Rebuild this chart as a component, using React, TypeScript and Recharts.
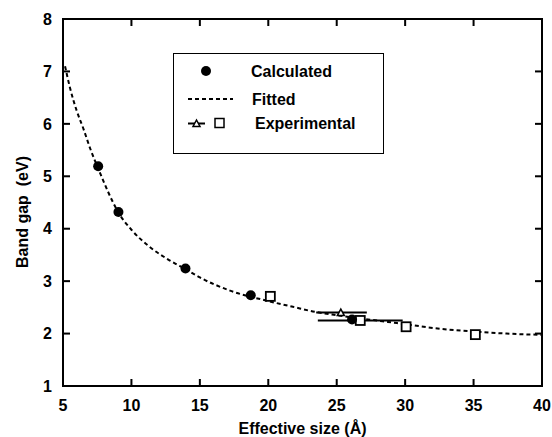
import { ComposedChart, Line, Scatter, XAxis, YAxis, ErrorBar, ReferenceArea, ReferenceLine } from 'recharts';

// values
const xTicks = [5, 10, 15, 20, 25, 30, 35, 40];
const yTicks = [1, 2, 3, 4, 5, 6, 7, 8];

const calculated = [
  { x: 7.57, y: 5.19 },
  { x: 9.05, y: 4.32 },
  { x: 13.95, y: 3.24 },
  { x: 18.72, y: 2.73 },
  { x: 26.12, y: 2.27 },
];

const expSquares = [
  { x: 20.15, y: 2.71, err: 0 },
  { x: 26.72, y: 2.25, err: 3.1 },
  { x: 30.07, y: 2.13, err: 0 },
  { x: 35.13, y: 1.98, err: 0 },
];

const expTriangles = [{ x: 25.3, y: 2.4, err: [1.8, 1.9] }];

const fitted = [
  { x: 5.15, y: 7.1 },
  { x: 5.5, y: 6.7 },
  { x: 6, y: 6.25 },
  { x: 6.5, y: 5.9 },
  { x: 7, y: 5.52 },
  { x: 7.6, y: 5.13 },
  { x: 8.3, y: 4.7 },
  { x: 9, y: 4.33 },
  { x: 10, y: 3.98 },
  { x: 11.3, y: 3.66 },
  { x: 12.7, y: 3.41 },
  { x: 14, y: 3.22 },
  { x: 15, y: 3.07 },
  { x: 17.2, y: 2.82 },
  { x: 20, y: 2.62 },
  { x: 21.8, y: 2.51 },
  { x: 23.5, y: 2.41 },
  { x: 25, y: 2.35 },
  { x: 27, y: 2.28 },
  { x: 29.4, y: 2.2 },
  { x: 32.6, y: 2.09 },
  { x: 35, y: 2.04 },
  { x: 37.4, y: 2.0 },
  { x: 40, y: 1.975 },
];

const FONT = '"Liberation Sans", Arial, sans-serif';
const TICK = 7;
const tickStyle = { fill: '#000', fontSize: 16, fontWeight: 'bold', fontFamily: FONT };

// inward tick stubs (filled rects) at both ends of an invisible reference line
const VStub = (p: any) => {
  const top = Math.min(p.y1, p.y2);
  const bot = Math.max(p.y1, p.y2);
  return (
    <g fill="#000" stroke="none">
      <rect x={p.x1 - 1} y={top} width={2} height={TICK} />
      <rect x={p.x1 - 1} y={bot - TICK} width={2} height={TICK} />
    </g>
  );
};
const HStub = (p: any) => {
  const l = Math.min(p.x1, p.x2);
  const r = Math.max(p.x1, p.x2);
  return (
    <g fill="#000" stroke="none">
      <rect x={l} y={p.y1 - 1} width={TICK} height={2} />
      <rect x={r - TICK} y={p.y1 - 1} width={TICK} height={2} />
    </g>
  );
};

const Dot = (p: any) => <circle cx={p.cx} cy={p.cy} r={5} fill="#000" />;
const Square = (p: any) => (
  <rect x={p.cx - 4.5} y={p.cy - 4.5} width={9} height={9} fill="#fff" stroke="#000" strokeWidth={1.8} />
);
const Tri = (p: any) => (
  <polygon
    points={`${p.cx - 3.5},${p.cy + 3} ${p.cx + 3.5},${p.cy + 3} ${p.cx},${p.cy - 3.5}`}
    fill="#fff"
    stroke="#000"
    strokeWidth={1.5}
  />
);

const LegendBox = () => (
  <div
    style={{
      position: 'absolute',
      left: 173,
      top: 53,
      width: 211,
      height: 101,
      border: '1.5px solid #000',
      boxSizing: 'border-box',
      background: '#fff',
    }}
  >
    <svg width={208} height={98} style={{ display: 'block' }}>
      <g fontFamily={FONT} fontSize={16} fontWeight="bold" fill="#000">
        <circle cx={32} cy={17} r={5} fill="#000" />
        <text x={77} y={17} dominantBaseline="central">Calculated</text>
        <line x1={14} y1={45} x2={59} y2={45} stroke="#000" strokeWidth={2} strokeDasharray="4 3" />
        <text x={78} y={45} dominantBaseline="central">Fitted</text>
        <line x1={14} y1={69.5} x2={31} y2={69.5} stroke="#000" strokeWidth={2} />
        <polygon points="19,72.5 26,72.5 22.5,66" fill="#fff" stroke="#000" strokeWidth={1.5} />
        <rect x={41} y={64.5} width={9} height={9} fill="#fff" stroke="#000" strokeWidth={1.5} />
        <text x={81} y={69} dominantBaseline="central">Experimental</text>
      </g>
    </svg>
  </div>
);

export default function App() {
  return (
    <div style={{ position: 'absolute', left: 0, top: 0, width: 552, height: 437, background: '#fff' }}>
      <ComposedChart width={552} height={437} margin={{ top: 19, right: 10, bottom: 0, left: 0 }}>
        <XAxis
          type="number"
          dataKey="x"
          domain={[5, 40]}
          ticks={xTicks}
          allowDataOverflow
          height={51}
          stroke="#000"
          strokeWidth={2}
          tickLine={false}
          tickSize={0}
          tickMargin={14}
          tick={tickStyle}
        />
        <YAxis
          type="number"
          domain={[1, 8]}
          ticks={yTicks}
          allowDataOverflow
          width={63}
          stroke="#000"
          strokeWidth={2}
          tickLine={false}
          tickSize={0}
          tickMargin={11}
          tick={tickStyle}
        />
        <ReferenceArea x1={5} x2={40} y1={1} y2={8} fill="none" stroke="#000" strokeWidth={2} ifOverflow="visible" />
        <ReferenceLine y={8} stroke="#000" strokeWidth={2} ifOverflow="visible" />
        <ReferenceLine x={40} stroke="#000" strokeWidth={2} ifOverflow="visible" />
        {xTicks.slice(1, -1).map((t) => (
          <ReferenceLine key={'x' + t} x={t} stroke="none" shape={VStub} />
        ))}
        {yTicks.slice(1, -1).map((t) => (
          <ReferenceLine key={'y' + t} y={t} stroke="none" shape={HStub} />
        ))}
        <Line
          data={fitted}
          dataKey="y"
          type="monotone"
          stroke="#000"
          strokeWidth={2}
          strokeDasharray="4 3"
          dot={false}
          activeDot={false}
          isAnimationActive={false}
        />
        <Scatter data={expTriangles} dataKey="y" shape={Tri} isAnimationActive={false}>
          <ErrorBar dataKey="err" direction="x" width={0} stroke="#000" strokeWidth={2} />
        </Scatter>
        <Scatter data={expSquares} dataKey="y" shape={Square} isAnimationActive={false}>
          <ErrorBar dataKey="err" direction="x" width={0} stroke="#000" strokeWidth={2} />
        </Scatter>
        <Scatter data={calculated} dataKey="y" shape={Dot} isAnimationActive={false} />
      </ComposedChart>
      <svg width={552} height={437} style={{ position: 'absolute', left: 0, top: 0, pointerEvents: 'none' }}>
        <g fontFamily={FONT} fontSize={16} fontWeight="bold" fill="#000">
          <text x={302.5} y={428} textAnchor="middle" dominantBaseline="central">
            Effective size (Å)
          </text>
          <text
            x={22}
            y={212}
            transform="rotate(-90 22 212)"
            textAnchor="middle"
            dominantBaseline="central"
            style={{ whiteSpace: 'pre' }}
          >
            Band gap  (eV)
          </text>
        </g>
      </svg>
      <LegendBox />
    </div>
  );
}
